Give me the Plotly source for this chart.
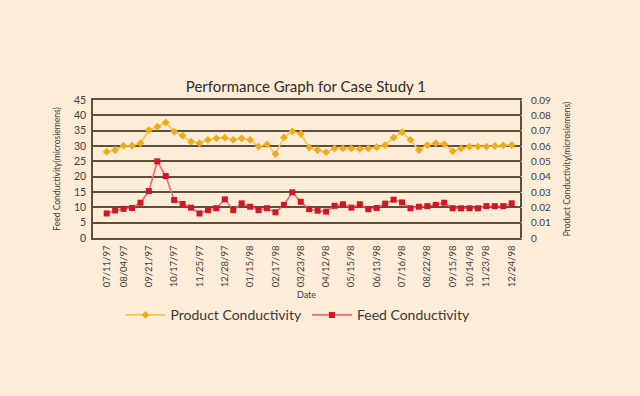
import plotly.graph_objects as go

# Data (category index along x; only some dates labelled)
feed = [8.0, 9.0, 9.5, 9.8, 11.5, 15.3, 25.0, 20.2, 12.4, 11.1,
        9.9, 8.0, 9.1, 9.7, 12.6, 9.1, 11.3, 10.2, 9.1, 9.7,
        8.4, 10.8, 14.9, 11.8, 9.4, 8.9, 8.6, 10.5, 11.0, 9.9,
        11.0, 9.4, 9.8, 11.2, 12.5, 11.6, 9.7, 10.2, 10.4, 10.8,
        11.5, 9.7, 9.7, 9.7, 9.7, 10.4, 10.4, 10.4, 11.3]

product = [0.0562, 0.0574, 0.0602, 0.0602, 0.0618, 0.0704, 0.0726, 0.0754, 0.0694, 0.0668,
           0.0628, 0.0618, 0.0640, 0.0650, 0.0654, 0.0640, 0.0650, 0.0640, 0.0596, 0.0610,
           0.0548, 0.0656, 0.0696, 0.0680, 0.0590, 0.0574, 0.0560, 0.0584, 0.0584, 0.0584,
           0.0580, 0.0584, 0.0592, 0.0606, 0.0654, 0.0690, 0.0640, 0.0574, 0.0606, 0.0618,
           0.0612, 0.0566, 0.0584, 0.0596, 0.0596, 0.0596, 0.0600, 0.0604, 0.0606]

tick_idx = [0, 2, 5, 8, 11, 14, 17, 20, 23, 26, 29, 32, 35, 38, 41, 43, 45, 48]
tick_labels = ["07/11/97", "08/04/97", "09/21/97", "10/17/97", "11/25/97", "12/28/97",
               "01/15/98", "02/17/98", "03/23/98", "04/12/98", "05/15/98", "06/13/98",
               "07/16/98", "08/22/98", "09/15/98", "10/14/98", "11/23/98", "12/24/98"]

x = list(range(len(feed)))

BG = "rgb(252,236,216)"
GRID = "rgb(90,80,60)"
TXT = "rgb(70,62,55)"
FONT = "Lato"

fig = go.Figure()
fig.add_trace(go.Scatter(
    x=x, y=product, name="Product Conductivity", yaxis="y2", mode="lines+markers",
    line=dict(color="rgb(246,196,80)", width=1.6),
    marker=dict(symbol="diamond", size=6, color="rgb(238,172,24)"),
))
fig.add_trace(go.Scatter(
    x=x, y=feed, name="Feed Conductivity", mode="lines+markers",
    line=dict(color="rgb(232,110,115)", width=1.6),
    marker=dict(symbol="square", size=6, color="rgb(212,22,36)"),
))

fig.update_layout(
    width=640, height=396,
    paper_bgcolor=BG, plot_bgcolor=BG,
    margin=dict(l=93, r=120, t=100, b=158),
    font=dict(family=FONT, color=TXT),
    title=dict(text="Performance Graph for Case Study 1", x=0.478, xanchor="center",
               y=0.78, yanchor="middle", font=dict(size=15, color="rgb(50,45,40)")),
    xaxis=dict(
        range=[-1.62, 48.98], tickmode="array", tickvals=tick_idx, ticktext=tick_labels,
        tickangle=-90, tickfont=dict(size=9.5, color=TXT), showgrid=False, zeroline=False,
        showline=True, linecolor=GRID, linewidth=1.6, mirror=True,
        ticks="outside", ticklen=2, tickcolor=BG,
        title=dict(text="Date", font=dict(size=9, color=TXT), standoff=5),
    ),
    yaxis=dict(
        range=[0, 45], dtick=5, showgrid=True, gridcolor=GRID, gridwidth=1.5, zeroline=False,
        showline=True, linecolor=GRID, linewidth=1.6, mirror=True,
        tickfont=dict(size=10.5, color=TXT), ticks="outside", ticklen=3, tickcolor=BG,
        title=dict(text="Feed Conductivity(microsiemens)", font=dict(size=8.5, color=TXT), standoff=12),
    ),
    yaxis2=dict(
        range=[0, 0.09], dtick=0.01, overlaying="y", side="right", showgrid=False,
        zeroline=False, showline=False,
        tickfont=dict(size=10, color=TXT), ticks="outside", ticklen=8, tickcolor=BG,
        title=dict(text="Product Conductivity(microsiemens)", font=dict(size=8.5, color=TXT), standoff=14),
    ),
    legend=dict(orientation="h", x=0.48, xanchor="center", y=-0.56, yanchor="middle",
                bgcolor="rgba(0,0,0,0)", font=dict(size=14, color="rgb(60,55,50)"),
                traceorder="normal", itemwidth=40),
    showlegend=True,
)

fig.write_html("out.html",
               config={"displayModeBar": False},
               post_script="document.body.style.margin='0';document.body.style.background='"
                           + BG + "';")
